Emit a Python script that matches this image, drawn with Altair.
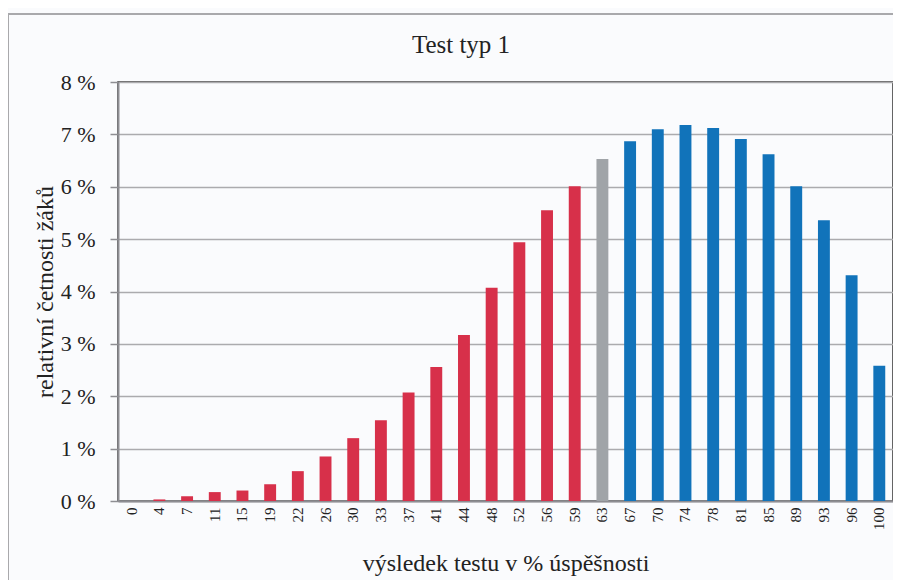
import altair as alt
import pandas as pd

categories = ["0", "4", "7", "11", "15", "19", "22", "26", "30", "33", "37", "41", "44", "48",
              "52", "56", "59", "63", "67", "70", "74", "78", "81", "85", "89", "93", "96", "100"]
values = [0.0, 0.03, 0.09, 0.17, 0.20, 0.32, 0.57, 0.85, 1.20, 1.54, 2.07, 2.56, 3.17, 4.07,
          4.94, 5.55, 6.01, 6.53, 6.87, 7.10, 7.18, 7.12, 6.91, 6.62, 6.01, 5.36, 4.31, 2.58]
groups = ["fail"] * 17 + ["mid"] + ["pass"] * 10

group_names = ["fail", "mid", "pass"]
group_colors = ["#D7304A", "#A0A4A8", "#1173BA"]
chart_title = "Test typ 1"

df = pd.DataFrame({"cat": categories, "val": values, "grp": groups})

SERIF = "Liberation Serif"
W, H = 775, 419

frame = alt.Chart(pd.DataFrame({"a": [0]})).mark_rect(
    fill=None, fillOpacity=0, stroke="#A9A9AC", strokeWidth=2, clip=False
).encode(
    x=alt.value(-110), x2=alt.value(820), y=alt.value(-68), y2=alt.value(540)
)

title = alt.Chart(pd.DataFrame({"t": [chart_title]})).mark_text(
    font=SERIF, fontSize=25, color="#222", align="center", baseline="alphabetic", clip=False
).encode(text="t:N", x=alt.value(343), y=alt.value(-29))

bars = alt.Chart(df).mark_bar().encode(
    x=alt.X("cat:N", sort=categories,
            scale=alt.Scale(paddingInner=0.57, paddingOuter=0.28),
            axis=alt.Axis(title="výsledek testu v % úspěšnosti", labelAngle=270,
                          labelAlign="right", labelBaseline="middle", labelPadding=6,
                          ticks=False, domainColor="#8E8E93", domainWidth=2,
                          labelFont=SERIF, labelFontSize=15, labelColor="#222",
                          titleFont=SERIF, titleFontSize=24, titleFontWeight="normal",
                          titleColor="#222", titleX=W / 2, titleY=62,
                          titleBaseline="middle", titleAlign="center")),
    y=alt.Y("val:Q", scale=alt.Scale(domain=[0, 8], nice=False),
            axis=alt.Axis(title="relativní četnosti žáků", values=list(range(9)),
                          labelExpr="datum.value + ' %'", tickSize=8, tickColor="#8E8E93",
                          tickWidth=1.5, labelPadding=15, domainColor="#8E8E93", domainWidth=2,
                          grid=True, gridColor="#ABABAE", gridWidth=1.6,
                          labelFont=SERIF, labelFontSize=22, labelColor="#222",
                          titleFont=SERIF, titleFontSize=24, titleFontWeight="normal",
                          titleColor="#222", titleX=-73, titleY=H / 2, titleAngle=270,
                          titleBaseline="middle", titleAlign="center")),
    color=alt.Color("grp:N", scale=alt.Scale(domain=group_names, range=group_colors), legend=None),
)

chart = alt.layer(frame, title, bars).properties(
    width=W, height=H,
    autosize=alt.AutoSizeParams(type="none"),
    padding={"left": 110, "top": 74, "right": 0, "bottom": 79},
    background="#FAFBFD",
).configure_view(stroke="#333333", strokeWidth=1.5)

chart.save("out.html", embed_options={"renderer": "svg", "actions": False})
